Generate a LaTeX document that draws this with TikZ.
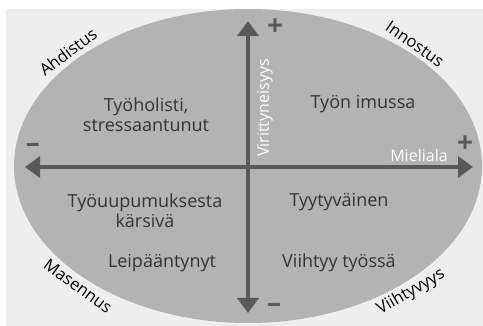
\documentclass[tikz,border=0pt]{standalone}
\usepackage{fontspec}
\setmainfont{Open Sans}
\usetikzlibrary{arrows.meta}

\definecolor{bggray}{HTML}{EEEEEE}
\definecolor{ellgray}{HTML}{B3B3B3}
\definecolor{axisgray}{HTML}{595959}
\definecolor{txtgray}{HTML}{333333}

\tikzset{
  axis/.style={line width=3.5pt, color=axisgray,
    {Triangle[length=15pt,width=21pt]}-{Triangle[length=15pt,width=21pt]}},
  quadtext/.style={text=txtgray, font=\fontsize{18}{20}\selectfont, align=center},
  moodtext/.style={text=black, font=\fontsize{16.5}{18}\selectfont},
  axistext/.style={text=white, font=\fontsize{16}{18}\selectfont},
  signtext/.style={text=axisgray, font=\fontsize{28}{28}\selectfont\bfseries},
}

\begin{document}
\begin{tikzpicture}[x=1pt,y=-1pt]
  \useasboundingbox (0,0) rectangle (483,326);
  \fill[bggray] (6,9) rectangle (483,326);
  \fill[ellgray] (248,166) ellipse [x radius=234, y radius=157];

  % akselit
  \coordinate (west) at (25,167);
  \coordinate (east) at (473,167);
  \coordinate (north) at (248,21);
  \coordinate (south) at (248,313);
  \draw[axis] (west) -- (east);
  \draw[axis] (south) -- (north);

  \node[axistext, rotate=90] (vir) at (265,108) {Virittyneisyys};
  \node[axistext] (mie) at (419,156) {Mieliala};

  % merkit
  \node[signtext] (plusn) at (275,27) {+};
  \node[signtext] (pluse) at (465,144) {+};
  \node[signtext] (minw) at (33,148) {–};
  \node[signtext] (mins) at (274,308) {–};

  % neljännekset
  \node[quadtext] (q1) at (146,115) {Työholisti,\\stressaantunut};
  \node[quadtext] (q2) at (363,104) {Työn imussa};
  \node[quadtext] (q3) at (145,211) {Työuupumuksesta\\kärsivä};
  \node[quadtext] (q4) at (339,202) {Tyytyväinen};
  \node[quadtext] (q5) at (162,263) {Leipääntynyt};
  \node[quadtext] (q6) at (339,263) {Viihtyy työssä};

  % tunnetilat reunalla
  \node[moodtext, rotate=37] (ahd) at (68,52) {Ahdistus};
  \node[moodtext, rotate=-35] (inn) at (415,44) {Innostus};
  \node[moodtext, rotate=-36] (mas) at (78,286) {Masennus};
  \node[moodtext, rotate=30] (vii) at (411,292) {Viihtyvyys};
\end{tikzpicture}
\end{document}
